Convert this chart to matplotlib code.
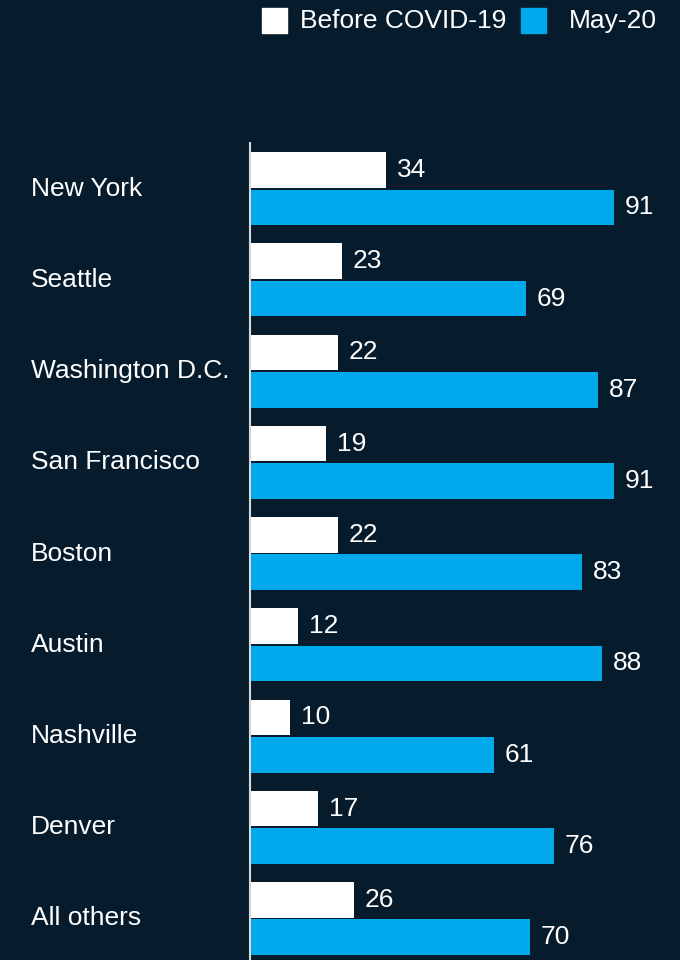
import matplotlib.pyplot as plt
import matplotlib.transforms as mtransforms
import numpy as np

cities = ["New York", "Seattle", "Washington D.C.", "San Francisco", "Boston",
          "Austin", "Nashville", "Denver", "All others"]
before = [34, 23, 22, 19, 22, 12, 10, 17, 26]
may20 = [91, 69, 87, 91, 83, 88, 61, 76, 70]

bg = "#061b2b"
blue = "#00a8ec"
fs = 19
plt.rcParams["font.family"] = ["Liberation Sans", "DejaVu Sans"]

fig = plt.figure(figsize=(6.8, 9.6), dpi=100, facecolor=bg)
ax = fig.add_axes([250 / 680, 0, 1 - 250 / 680, 1 - 143 / 960], facecolor=bg)

y = np.arange(len(cities))
h = 0.39
off = 0.205
ax.barh(y - off, before, height=h, color="white")
ax.barh(y + off, may20, height=h, color=blue)

ax.set_xlim(0, 107.5)
ax.set_ylim(8.455, -0.5)

trans = mtransforms.blended_transform_factory(fig.transFigure, ax.transData)
for i in range(len(cities)):
    ax.text(before[i] + 2.7, y[i] - off, str(before[i]), color="white",
            fontsize=fs, va="center", ha="left")
    ax.text(may20[i] + 2.7, y[i] + off, str(may20[i]), color="white",
            fontsize=fs, va="center", ha="left")
    ax.text(31 / 680, y[i], cities[i], transform=trans, clip_on=False,
            color="white", fontsize=fs, va="center", ha="left")

ax.set_xticks([])
ax.set_yticks([])
for s in ["top", "right", "bottom"]:
    ax.spines[s].set_visible(False)
ax.spines["left"].set_color("#d9d9d9")
ax.spines["left"].set_linewidth(1.5)

# legend drawn by hand
fig.patches.append(plt.Rectangle((262 / 680, 1 - 33 / 960), 25 / 680, 25 / 960,
                                 transform=fig.transFigure, color="white"))
fig.text(300 / 680, 1 - 21 / 960, "Before COVID-19", color="white",
         fontsize=fs, va="center", ha="left")
fig.patches.append(plt.Rectangle((521 / 680, 1 - 33 / 960), 25 / 680, 25 / 960,
                                 transform=fig.transFigure, color=blue))
fig.text(569 / 680, 1 - 21 / 960, "May-20", color="white",
         fontsize=fs, va="center", ha="left")

fig.savefig("out.png", dpi=100, facecolor=bg)
